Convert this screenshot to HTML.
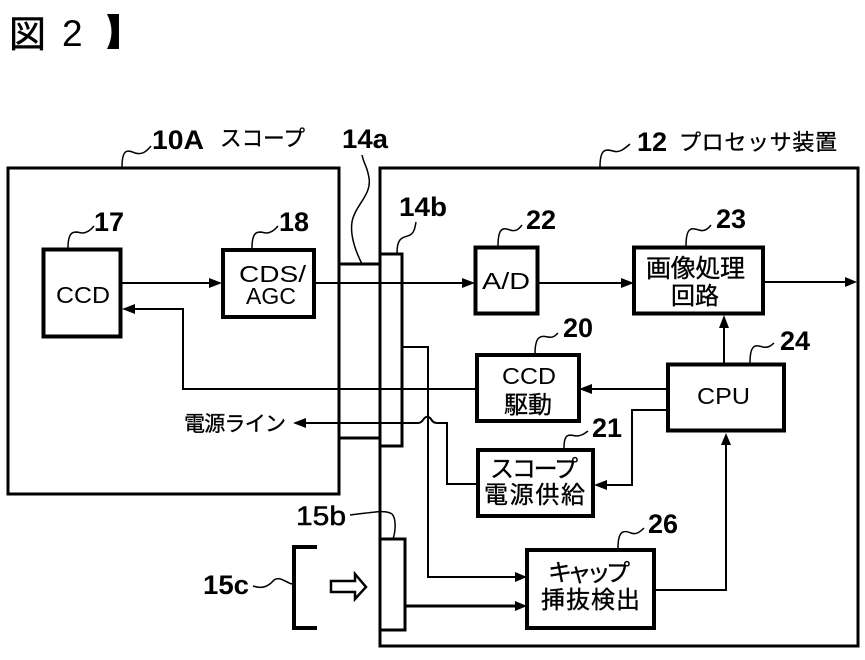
<!DOCTYPE html>
<html><head><meta charset="utf-8"><style>
html,body{margin:0;padding:0;background:#fff}
svg{display:block}
text{fill:#000}
.n{font-family:"Liberation Sans",sans-serif;font-size:27px;font-weight:bold}
.l{font-family:"Liberation Sans","Noto Sans CJK JP",sans-serif;font-size:23px}
.j{font-family:"Noto Sans CJK JP",sans-serif;font-size:24px;stroke:#000;stroke-width:.35}
.r{fill:none;stroke:#000;stroke-width:4}
.w{fill:none;stroke:#000;stroke-width:3}
.t{fill:none;stroke:#000;stroke-width:2}
.c{fill:none;stroke:#000;stroke-width:1.5}
</style></head><body>
<svg width="865" height="660" viewBox="0 0 865 660" xmlns="http://www.w3.org/2000/svg">
<text x="9" y="47" style="font-family:'Noto Sans CJK JP',sans-serif;font-size:37px;stroke:#000;stroke-width:.5">図</text>
<text x="62" y="46" style="font-family:'Liberation Sans',sans-serif;font-size:37px">2</text>
<path d="M107 14 H119 V49 H107 Q116 32 107 14Z" fill="#000"/>

<rect x="8" y="168" width="331" height="326" class="w"/>
<rect x="380" y="168" width="478" height="478" class="w"/>
<path d="M339 264 H380 M339 438 H380" class="w"/>
<rect x="380" y="254" width="22" height="192" class="w"/>
<rect x="380" y="539" width="25" height="91" class="w"/>

<rect x="43.500" y="249.500" width="77" height="87" class="r"/>
<rect x="223" y="250" width="91" height="67" class="r"/>
<rect x="475.500" y="247.500" width="62" height="66" class="r"/>
<rect x="634" y="247.500" width="129" height="66" class="r"/>
<rect x="477" y="355" width="102" height="66" class="r"/>
<rect x="668" y="364.500" width="116" height="66" class="r"/>
<rect x="478" y="450" width="115" height="66" class="r"/>
<rect x="527" y="550" width="127" height="78" class="r"/>

<path d="M317 547 H294 V628 H317" class="r"/>
<path d="M331 581 H355 V574 L366 587 L355 599 V592 H331Z" fill="#fff" stroke="#000" stroke-width="2.500"/>

<g class="t">
<path d="M120 283 H210" class="t"/>
<path d="M314 283 H463" class="t"/>
<path d="M538 283 H621" class="t"/>
<path d="M763 282 H846" class="t"/>
<path d="M724 363 V326" class="t"/>
<path d="M667 389 H590" class="t"/>
<path d="M476 389 H183 V309 H132" class="t"/>
<path d="M402 347 H428 V577 H516" class="t"/>
<path d="M667 410 H632 V485 H606" class="t"/>
<path d="M654 590 H726 V443" class="t"/>
<path d="M405 606 H516" class="w"/>
<path d="M305 423 H418 Q421 423 423 420 Q427 414 431 419 Q433 423 437 423 H447 V484 H477" class="t"/>
</g>
<g fill="#000">
<path d="M222 283 L209 278 V288Z"/>
<path d="M475 283 L462 278 V288Z"/>
<path d="M634 283 L621 278 V288Z"/>
<path d="M857 282 L845 277 V287Z"/>
<path d="M724 315 L719 328 H729Z"/>
<path d="M579 389 L592 384 V394Z"/>
<path d="M122 309 L135 304 V314Z"/>
<path d="M527 577 L515 572 V582Z"/>
<path d="M527 606 L515 601 V611Z"/>
<path d="M594 485 L607 480 V490Z"/>
<path d="M726 433 L721 445 H731Z"/>
<path d="M293 423 L306 418 V428Z"/>
</g>

<g class="c">
<path d="M122 167 C122 148 128 150 135 153 C142 155 146 152 151 146" class="c"/>
<path d="M68 248 C68 228 76 232 82 233 C86 233 90 231 94 226" class="c"/>
<path d="M252 248 C252 228 260 232 266 233 C270 233 274 231 278 226" class="c"/>
<path d="M362 264 C355 250 350 235 352 222 C355 205 372 195 369 178 C367 165 364 165 362 155" class="c"/>
<path d="M397 253 C397 235 405 238 410 235 C414 233 415 228 416 222" class="c"/>
<path d="M498 246 C498 226 504 228 510 230 C516 232 519 229 522 225" class="c"/>
<path d="M686 246 C686 226 692 228 699 230 C704 232 708 229 711 225" class="c"/>
<path d="M535 354 C535 334 542 336 548 337 C553 338 555 336 558 333" class="c"/>
<path d="M600 167 C600 148 606 149 613 151 C619 153 623 150 630 144" class="c"/>
<path d="M750 363 C750 343 756 345 763 347 C768 348 771 346 774 343" class="c"/>
<path d="M564 448 C564 432 570 435 576 436 C581 436 584 434 588 431" class="c"/>
<path d="M618 548 C618 530 624 530 631 533 C636 535 640 532 644 528" class="c"/>
<path d="M393 539 C396 530 396 518 392 514 C385 509 370 513 350 515" class="c"/>
<path d="M292 584 C285 582 280 576 274 580 C268 587 262 589 253 586" class="c"/>
</g>

<text class="n" x="152" y="149" textLength="52" lengthAdjust="spacingAndGlyphs">10A</text>
<text class="j" x="220" y="146" style="font-size:22px" textLength="85" lengthAdjust="spacingAndGlyphs">スコープ</text>
<text class="n" x="342" y="148" textLength="46" lengthAdjust="spacingAndGlyphs">14a</text>
<text class="n" x="94" y="231">17</text>
<text class="n" x="279" y="231">18</text>
<text class="n" x="399" y="216" textLength="48" lengthAdjust="spacingAndGlyphs">14b</text>
<text class="n" x="526" y="229">22</text>
<text class="n" x="716" y="228">23</text>
<text class="n" x="563" y="337">20</text>
<text class="n" x="780" y="350">24</text>
<text class="n" x="592" y="437">21</text>
<text class="n" x="648" y="533">26</text>
<text class="n" x="637" y="151">12</text>
<text class="j" x="679" y="150" style="font-size:22px" textLength="158" lengthAdjust="spacing">プロセッサ装置</text>
<text class="n" x="296" y="525" textLength="50" lengthAdjust="spacingAndGlyphs" style="font-weight:normal;stroke:#000;stroke-width:.5">15b</text>
<text class="n" x="203" y="594" textLength="46" lengthAdjust="spacingAndGlyphs">15c</text>

<text class="l" x="56" y="303" textLength="54" lengthAdjust="spacingAndGlyphs">CCD</text>
<text class="l" x="239" y="282" textLength="67" lengthAdjust="spacingAndGlyphs">CDS/</text>
<text class="l" x="246" y="304" textLength="50" lengthAdjust="spacing">AGC</text>
<text class="l" x="482" y="289" textLength="48" lengthAdjust="spacingAndGlyphs">A/D</text>
<text class="j" x="646" y="277" style="font-size:25px" textLength="99" lengthAdjust="spacing">画像処理</text>
<text class="j" x="671" y="304" style="font-size:24px">回路</text>
<text class="l" x="502" y="384" textLength="54" lengthAdjust="spacingAndGlyphs">CCD</text>
<text class="j" x="504" y="413">駆動</text>
<text class="l" x="697" y="404" textLength="53" lengthAdjust="spacingAndGlyphs">CPU</text>
<text class="j" x="490" y="477" textLength="88" lengthAdjust="spacing">スコープ</text>
<text class="j" x="484" y="503" textLength="101" lengthAdjust="spacing">電源供給</text>
<text class="j" x="548" y="581" textLength="82" lengthAdjust="spacing">キャップ</text>
<text class="j" x="541" y="608" textLength="99" lengthAdjust="spacing">挿抜検出</text>
<text class="j" x="184" y="431" style="font-size:21px" textLength="102" lengthAdjust="spacing">電源ライン</text>
</svg>
</body></html>
